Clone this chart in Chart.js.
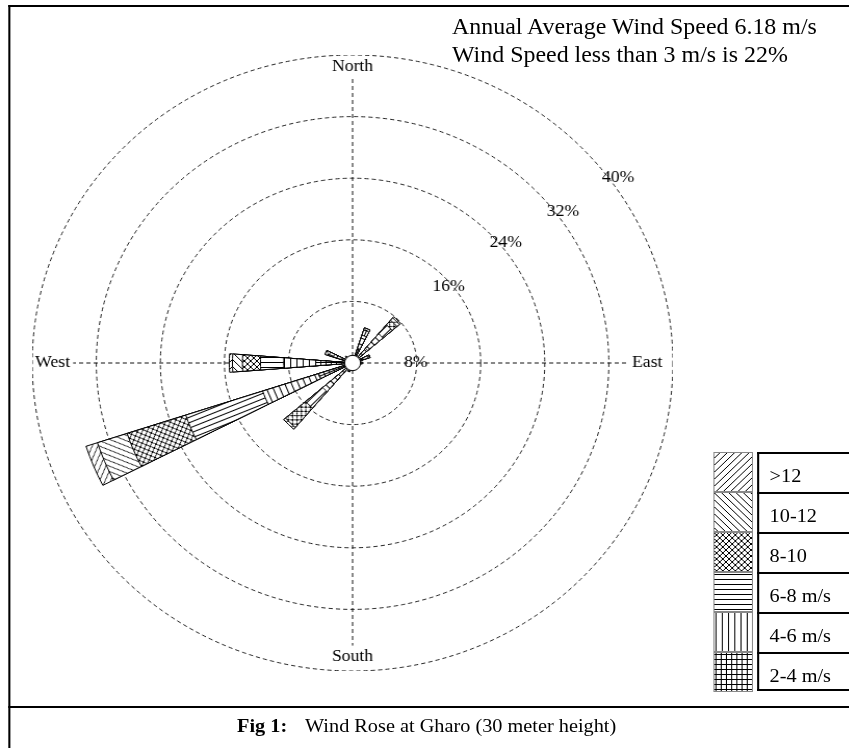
<!DOCTYPE html>
<html>
<head>
<meta charset="utf-8">
<script src="https://cdn.jsdelivr.net/npm/chart.js@4.4.1/dist/chart.umd.min.js"></script>
<style>
  html, body { margin: 0; padding: 0; background: #fff; }
  body { width: 849px; height: 748px; overflow: hidden; font-family: "Liberation Serif", "Times New Roman", serif; color: #000; }
  /* the figure is a bit wider than tall, so lay it out unstretched and widen it */
  #page { position: relative; width: 816.35px; height: 748px; transform: scaleX(1.04); transform-origin: 0 0; }
  .line { position: absolute; background: #000; }
  #rose { position: absolute; left: 30.5px; top: 55px; }
  #info { position: absolute; left: 434.6px; top: 13px; font-size: 23px; line-height: 28px; white-space: nowrap; }
  #caption { position: absolute; top: 714px; font-size: 19.5px; line-height: 24px; white-space: nowrap; }
  #swatches { position: absolute; left: 685.6px; top: 452px; width: 38.5px; }
  #swatches canvas { display: block; }
  #labels { position: absolute; left: 728px; top: 452px; width: 100px; }
  #labels div { box-sizing: border-box; height: 40px; border-left: 2px solid #000; border-top: 2px solid #000; padding-left: 10px; font-size: 19.5px; line-height: 44px; white-space: nowrap; }
  #labels div:last-child { border-bottom: 2px solid #000; height: 39px; }
</style>
</head>
<body>
<div id="page">
  <div class="line" style="left:7.6px; top:5px; width:820px; height:2px;"></div>
  <div class="line" style="left:7.6px; top:5px; width:2px; height:750px;"></div>
  <div class="line" style="left:7.6px; top:706px; width:820px; height:2px;"></div>
  <canvas id="rose" width="616" height="616"></canvas>
  <div id="info">Annual Average Wind Speed 6.18 m/s<br>Wind Speed less than 3 m/s is 22%</div>
  <div id="caption"><b style="position:absolute; left:227.9px;">Fig 1:</b><span style="position:absolute; left:293.3px;">Wind Rose at Gharo (30 meter height)</span></div>
  <div id="swatches"></div>
  <div id="labels"></div>
</div>
<script>
// 16 compass directions, clockwise from north
const directions = ['N', 'NNE', 'NE', 'ENE', 'E', 'ESE', 'SE', 'SSE', 'S', 'SSW', 'SW', 'WSW', 'W', 'WNW', 'NW', 'NNW'];
const speedBins = ['2-4 m/s', '4-6 m/s', '6-8 m/s', '8-10', '10-12', '>12'];

// frequency (%) of each speed bin per direction
const freq2to4   = [0.6, 2.0, 2.5, 1.3, 0.9, 0.6, 0.5, 0.5, 0.6, 0.8, 2.9, 4.5, 4.6, 1.5, 0.8, 0.5];
const freq4to6   = [0.2, 1.8, 2.5, 0.7, 0.3, 0.2, 0.1, 0.1, 0.2, 0.3, 2.0, 7.3, 4.0, 1.0, 0.3, 0.1];
const freq6to8   = [0.0, 0.7, 1.5, 0.3, 0.0, 0.0, 0.0, 0.0, 0.0, 0.1, 2.8, 10.1, 2.9, 0.6, 0.1, 0.0];
const freq8to10  = [0.0, 0.3, 0.8, 0.0, 0.0, 0.0, 0.0, 0.0, 0.0, 0.0, 3.3, 7.7, 2.25, 0.5, 0.0, 0.0];
const freq10to12 = [0.0, 0.0, 0.4, 0.0, 0.0, 0.0, 0.0, 0.0, 0.0, 0.0, 0.3, 3.9, 1.25, 0.0, 0.0, 0.0];
const freqOver12 = [0.0, 0.0, 0.2, 0.0, 0.0, 0.0, 0.0, 0.0, 0.0, 0.0, 0.0, 1.5, 0.4, 0.0, 0.0, 0.0];
const calmPercent = 1.0;

const ringTicks = [8, 16, 24, 32, 40];
const ringLabelPos = [[7.9, 90], [15.55, 50.5], [24.7, 50.8], [32.8, 53.2], [41, 54]]; // [value, compass deg]
const axisNames = ['North', 'East', 'South', 'West'];
const axisNamePos = [38.5, 36.8, 38.1, 37.45];
const axisLineEnd = [37, 34.5, 36.7, 34.9];

const PETAL = 9; // degrees of each petal
const hatchKinds = ['grid', 'vert', 'horiz', 'cross', 'back', 'fwd'];
const tileSize = {grid: 5, vert: 6, horiz: 5, cross: 6, back: 7, fwd: 7};

function makeTile(kind) {
  const s = tileSize[kind];
  const c = document.createElement('canvas');
  c.width = s; c.height = s;
  const g = c.getContext('2d');
  g.fillStyle = '#fff';
  g.fillRect(0, 0, s, s);
  g.strokeStyle = '#000';
  g.lineWidth = 1;
  g.beginPath();
  if (kind === 'fwd' || kind === 'cross') {
    for (let o = -s; o <= s; o += s) { g.moveTo(o, s); g.lineTo(o + s, 0); }
  }
  if (kind === 'back' || kind === 'cross') {
    for (let o = -s; o <= s; o += s) { g.moveTo(o, 0); g.lineTo(o + s, s); }
  }
  if (kind === 'horiz' || kind === 'grid') { g.moveTo(0, 2.5); g.lineTo(s, 2.5); }
  if (kind === 'vert' || kind === 'grid') { g.moveTo(2.5, 0); g.lineTo(2.5, s); }
  g.stroke();
  return c;
}
const tiles = {};
hatchKinds.forEach(k => tiles[k] = makeTile(k));

const patCache = {};
function patternFor(ctx, kind, rot) {
  const key = kind + '_' + rot;
  if (!patCache[key]) {
    const p = ctx.createPattern(tiles[kind], 'repeat');
    p.setTransform(new DOMMatrix().rotateSelf(rot));
    patCache[key] = p;
  }
  return patCache[key];
}

// slot 0 is a lead gap so petal N is centred on north, then petal/gap alternate
const isPetal = i => i > 0 && (i - 1) % 2 === 0;
const dirOf = i => (i - 1) / 2;
const slotLabels = [''];
directions.forEach((d, k) => { slotLabels.push(d); if (k < 15) slotLabels.push(''); });

const binSeries = [freq2to4, freq4to6, freq6to8, freq8to10, freq10to12, freqOver12];
let running = directions.map(() => 0);
const datasets = binSeries.map((series, b) => {
  running = running.map((v, k) => v + series[k]);
  const slots = [0];
  running.forEach((v, k) => { slots.push(v); if (k < 15) slots.push(0); });
  return {
    label: speedBins[b],
    data: slots,
    angle: c => c.dataIndex === 0 ? 360 - PETAL / 2 : (isPetal(c.dataIndex) ? PETAL : 22.5 - PETAL),
    backgroundColor: c => isPetal(c.dataIndex)
      ? patternFor(c.chart.ctx, hatchKinds[b], dirOf(c.dataIndex) * 22.5 - 270)
      : 'rgba(0,0,0,0)',
    borderColor: '#000',
    borderWidth: c => isPetal(c.dataIndex) ? 1 : 0
  };
});

const roseDecor = {
  id: 'roseDecor',
  beforeDatasetsDraw(chart) {
    const s = chart.scales.r, ctx = chart.ctx;
    ctx.save();
    ctx.strokeStyle = '#111';
    ctx.lineWidth = 1;
    ctx.setLineDash([4, 3]);
    axisLineEnd.forEach((v, k) => {
      const a = k * Math.PI / 2, d = s.getDistanceFromCenterForValue(v);
      ctx.beginPath();
      ctx.moveTo(s.xCenter, s.yCenter);
      ctx.lineTo(s.xCenter + d * Math.sin(a), s.yCenter - d * Math.cos(a));
      ctx.stroke();
    });
    ctx.restore();
  },
  afterDatasetsDraw(chart) {
    const s = chart.scales.r, ctx = chart.ctx;
    ctx.save();
    // calm circle
    ctx.beginPath();
    ctx.arc(s.xCenter, s.yCenter, s.getDistanceFromCenterForValue(calmPercent), 0, Math.PI * 2);
    ctx.fillStyle = '#fff';
    ctx.fill();
    ctx.strokeStyle = '#000';
    ctx.lineWidth = 1;
    ctx.stroke();
    ctx.font = '17px "Liberation Serif", serif';
    ctx.fillStyle = '#000';
    ctx.textAlign = 'center';
    ctx.textBaseline = 'middle';
    const at = (v, deg) => {
      const a = deg * Math.PI / 180, d = s.getDistanceFromCenterForValue(v);
      return [s.xCenter + d * Math.sin(a), s.yCenter - d * Math.cos(a)];
    };
    axisNames.forEach((n, k) => { const p = at(axisNamePos[k], k * 90); ctx.fillText(n, p[0], p[1]); });
    ringTicks.forEach((t, k) => { const p = at(ringLabelPos[k][0], ringLabelPos[k][1]); ctx.fillText(t + '%', p[0], p[1]); });
    ctx.restore();
  }
};

new Chart(document.getElementById('rose'), {
  type: 'polarArea',
  data: {labels: slotLabels, datasets: datasets},
  options: {
    responsive: false,
    animation: false,
    events: [],
    layout: {padding: 0},
    plugins: {legend: {display: false}, tooltip: {enabled: false}},
    scales: {
      r: {
        min: 0,
        max: 40,
        startAngle: 0,
        ticks: {display: false, stepSize: 8},
        grid: {circular: true, color: '#222', lineWidth: 1},
        border: {dash: [4, 3]},
        angleLines: {display: false},
        pointLabels: {display: false}
      }
    }
  },
  plugins: [roseDecor]
});

// legend: swatches + label boxes, >12 on top
const sw = document.getElementById('swatches');
const lb = document.getElementById('labels');
for (let b = speedBins.length - 1; b >= 0; b--) {
  const c = document.createElement('canvas');
  c.width = 38; c.height = 40;
  const g = c.getContext('2d');
  g.fillStyle = g.createPattern(tiles[hatchKinds[b]], 'repeat');
  g.fillRect(0, 0, 38, 40);
  g.strokeStyle = '#888';
  g.lineWidth = 1;
  g.strokeRect(0.5, 0.5, 37, 39);
  sw.appendChild(c);
  const d = document.createElement('div');
  d.textContent = speedBins[b];
  lb.appendChild(d);
}
</script>
</body>
</html>
